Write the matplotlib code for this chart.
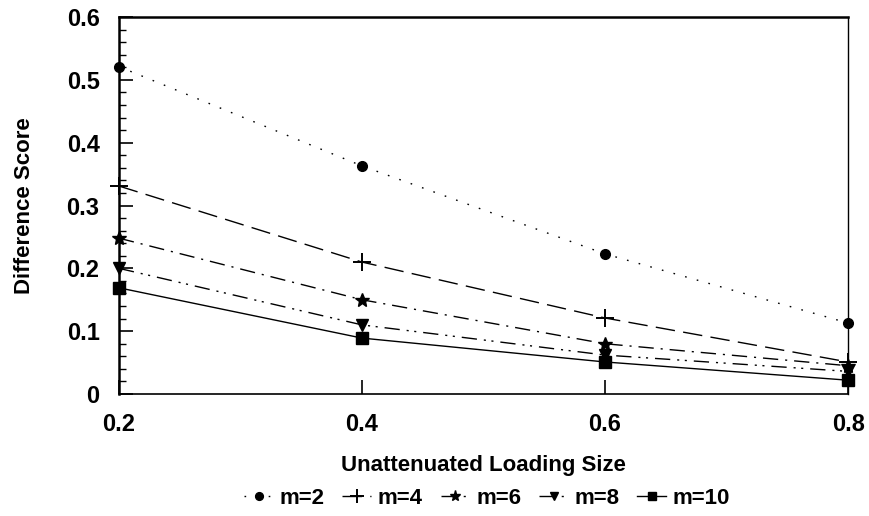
#!/usr/bin/env python3
import matplotlib
matplotlib.use("Agg")
import matplotlib.pyplot as plt
from matplotlib.ticker import MultipleLocator, FixedLocator

plt.rcParams["font.family"] = ["Liberation Sans", "DejaVu Sans"]

loading = [0.2, 0.4, 0.6, 0.8]
series_labels = ["m=2", "m=4", "m=6", "m=8", "m=10"]
m2 = [0.521, 0.363, 0.223, 0.113]
m4 = [0.331, 0.210, 0.121, 0.051]
m6 = [0.248, 0.150, 0.080, 0.045]
m8 = [0.200, 0.110, 0.062, 0.036]
m10 = [0.169, 0.089, 0.051, 0.022]
x_ticks = [0.2, 0.4, 0.6, 0.8]
x_ticklabels = ["0.2", "0.4", "0.6", "0.8"]
y_ticks = [0.0, 0.1, 0.2, 0.3, 0.4, 0.5, 0.6]
y_ticklabels = ["0", "0.1", "0.2", "0.3", "0.4", "0.5", "0.6"]

styles = [
    dict(marker="o", ms=7, linestyle=(0, (1.2, 7.5))),
    dict(marker="+", ms=13, mew=1.4, linestyle=(0, (14, 6))),
    dict(marker="*", ms=10, linestyle=(0, (11, 5, 1.5, 5))),
    dict(marker="v", ms=8, linestyle=(0, (11, 5, 1.5, 4, 1.5, 5))),
    dict(marker="s", ms=8, linestyle="-"),
]

fig = plt.figure(figsize=(8.7, 5.16), dpi=100)
ax = fig.add_axes([0.1368, 0.2364, 0.838, 0.7306])

for vals, lab, st in zip([m2, m4, m6, m8, m10], series_labels, styles):
    ax.plot(loading, vals, color="black", lw=1.0, label=lab, clip_on=False, **st)

ax.set_xlim(0.2, 0.8)
ax.set_ylim(0, 0.6)
ax.xaxis.set_major_locator(FixedLocator(x_ticks))
ax.yaxis.set_major_locator(FixedLocator(y_ticks))
ax.yaxis.set_minor_locator(MultipleLocator(0.02))
ax.set_xticklabels(x_ticklabels)
ax.set_yticklabels(y_ticklabels)

ax.tick_params(axis="both", which="major", direction="in", length=10, width=1.2,
               labelsize=17, pad=14)
ax.tick_params(axis="y", which="minor", direction="in", length=5, width=1.0)
ax.tick_params(top=False, right=False)
for lbl in ax.get_xticklabels() + ax.get_yticklabels():
    lbl.set_fontweight("bold")

ax.spines["left"].set_linewidth(1.8)
ax.spines["top"].set_linewidth(1.8)
ax.spines["right"].set_linewidth(1.0)
ax.spines["bottom"].set_linewidth(1.2)

ax.set_xlabel("Unattenuated Loading Size", fontsize=16, fontweight="bold", labelpad=13)
ax.set_ylabel("Difference Score", fontsize=16, fontweight="bold", labelpad=23)

fig.legend(loc="center", bbox_to_anchor=(0.56, 0.034), ncol=5, frameon=False,
           handlelength=1.3, handletextpad=0.3, columnspacing=0.8, markerscale=0.8,
           prop={"weight": "bold", "size": 16})

fig.savefig("out.png", dpi=100)
